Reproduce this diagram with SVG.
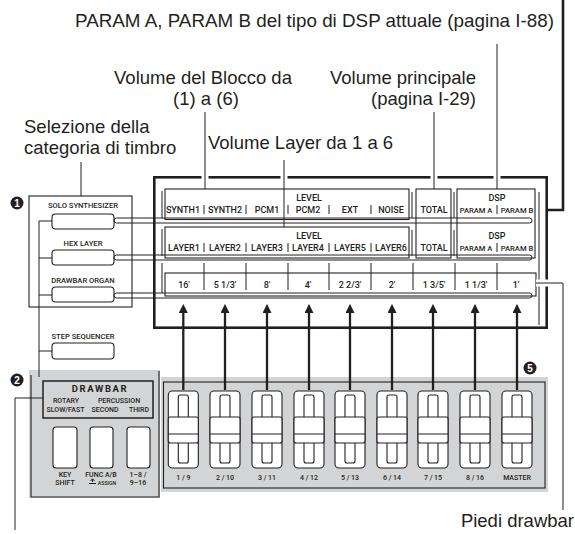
<svg xmlns="http://www.w3.org/2000/svg" width="575" height="534" viewBox="0 0 575 534">
<style>
.lbl{font-family:"Liberation Sans",Arial,sans-serif;font-size:18.5px;fill:#231f20}
.p{font-family:Roboto,"Liberation Sans",sans-serif;font-size:9px;font-weight:500;fill:#231f20;text-anchor:middle}
.ps{font-family:Roboto,"Liberation Sans",sans-serif;font-size:7.6px;font-weight:500;fill:#231f20;text-anchor:middle}
.pt{font-family:Roboto,"Liberation Sans",sans-serif;font-size:7px;font-weight:500;fill:#231f20;text-anchor:middle}
.ln{stroke:#231f20;stroke-width:1;fill:none}
.box{stroke:#231f20;stroke-width:1.1;fill:none}
.thick{stroke:#231f20;stroke-width:2.6;fill:none}
.btn{stroke:#231f20;stroke-width:1.1;fill:#fff}
.halo{stroke:#fff;stroke-width:7;fill:none}
.arr{stroke:#231f20;stroke-width:2.3;fill:none}
.bar{stroke:#231f20;stroke-width:1;fill:none}
.num{font-family:"Liberation Sans",Arial,sans-serif;font-size:10px;font-weight:bold;fill:#fff;text-anchor:middle}
</style>
<defs>
<marker id="ah" viewBox="0 0 10 10" refX="1" refY="5" markerWidth="9" markerHeight="9" orient="auto" markerUnits="userSpaceOnUse">
<path d="M0,0 L10,5 L0,10 Z" fill="#231f20"/>
</marker>
<g id="slider">
<rect x="-15" y="391" width="30" height="77" rx="4" class="btn"/>
<rect x="-5" y="395" width="10" height="68" rx="2" class="btn"/>
<rect x="-15" y="417" width="30" height="26" rx="2" class="btn"/>
<line x1="-15" y1="434" x2="15" y2="434" class="ln"/>
</g>
</defs>
<rect width="575" height="534" fill="#fff"/>

<!-- top labels -->
<g id="label-dsp"><text class="lbl" x="554" y="27" text-anchor="end" textLength="479" lengthAdjust="spacingAndGlyphs">PARAM A, PARAM B del tipo di DSP attuale (pagina I-88)</text></g>
<g id="label-blocco"><text class="lbl" x="203" y="84" text-anchor="middle">Volume del Blocco da</text><text class="lbl" x="206" y="105" text-anchor="middle">(1) a (6)</text></g>
<g id="label-principale"><text class="lbl" x="476" y="84" text-anchor="end">Volume principale</text><text class="lbl" x="476" y="105" text-anchor="end">(pagina I-29)</text></g>
<g id="label-selezione"><text class="lbl" x="24" y="133">Selezione della</text><text class="lbl" x="24" y="154">categoria di timbro</text></g>
<g id="label-layer"><text class="lbl" x="208" y="149">Volume Layer da 1 a 6</text></g>
<g id="label-piedi"><text class="lbl" x="574" y="527" text-anchor="end">Piedi drawbar</text></g>

<!-- display -->
<g id="display">
<rect x="154.3" y="177.3" width="392.4" height="150.4" class="thick"/>
<line x1="539" y1="192" x2="539" y2="325" class="ln"/>
</g>
<g id="row1">
<rect x="165" y="189" width="244" height="30.5" class="box"/>
<line x1="162" y1="191" x2="162" y2="218" class="ln"/>
<text class="p" x="309" y="201">LEVEL</text>
<text class="p" x="183" y="213">SYNTH1</text>
<text class="p" x="225" y="213">SYNTH2</text>
<text class="p" x="267" y="213">PCM1</text>
<text class="p" x="308" y="213">PCM2</text>
<text class="p" x="350" y="213">EXT</text>
<text class="p" x="391" y="213">NOISE</text>
<path class="ln" d="M204,205V214M246,205V214M288,205V214M329,205V214M371,205V214"/>
</g>
<g id="row2">
<rect x="165" y="227" width="244" height="31" class="box"/>
<line x1="162" y1="229" x2="162" y2="256" class="ln"/>
<text class="p" x="309" y="239">LEVEL</text>
<text class="p" x="184" y="251">LAYER1</text>
<text class="p" x="225" y="251">LAYER2</text>
<text class="p" x="267" y="251">LAYER3</text>
<text class="p" x="308" y="251">LAYER4</text>
<text class="p" x="350" y="251">LAYER5</text>
<text class="p" x="391" y="251">LAYER6</text>
<path class="ln" d="M204,243V252M246,243V252M288,243V252M329,243V252M371,243V252"/>
</g>
<g id="total">
<rect x="416" y="189" width="35" height="69" class="box"/>
<path class="ln" d="M412,192V218M412,230V256"/>
<text class="p" x="434" y="213">TOTAL</text>
<text class="p" x="434" y="251">TOTAL</text>
</g>
<g id="dsp">
<rect x="457" y="189" width="78" height="69" class="box"/>
<path class="ln" d="M454,192V218M454,230V256M497,205V214M497,243V252"/>
<text class="p" x="497" y="201">DSP</text>
<text class="ps" x="476" y="213">PARAM A</text>
<text class="ps" x="517" y="213">PARAM B</text>
<text class="p" x="497" y="239">DSP</text>
<text class="ps" x="476" y="251">PARAM A</text>
<text class="ps" x="517" y="251">PARAM B</text>
</g>
<g id="row3">
<rect x="165" y="273" width="371" height="23" class="box"/>
<line x1="162" y1="263" x2="162" y2="293" class="ln"/>
<path class="ln" d="M204,263V290M246,263V290M288,263V290M329,263V290M371,263V290M413,263V290M455,263V290M497,263V290"/>
<text class="p" x="184" y="288">16′</text>
<text class="p" x="225" y="288">5  1/3′</text>
<text class="p" x="267" y="288">8′</text>
<text class="p" x="308" y="288">4′</text>
<text class="p" x="350" y="288">2  2/3′</text>
<text class="p" x="392" y="288">2′</text>
<text class="p" x="434" y="288">1  3/5′</text>
<text class="p" x="476" y="288">1  1/3′</text>
<text class="p" x="516" y="288">1′</text>
</g>

<!-- category panel -->
<g id="category">
<rect x="29" y="196" width="103" height="111" class="box"/>
<circle cx="17" cy="203" r="6.5" fill="#231f20"/><text class="num" x="17" y="206.5">1</text>
</g>
<g id="btn-solo"><text class="ps" x="83" y="208">SOLO SYNTHESIZER</text><rect x="52" y="214" width="62" height="15" rx="3.5" class="btn"/></g>
<g id="btn-hex"><text class="ps" x="83" y="246">HEX LAYER</text><rect x="52" y="250" width="62" height="15" rx="3.5" class="btn"/></g>
<g id="btn-organ"><text class="ps" x="83" y="283">DRAWBAR ORGAN</text><rect x="52" y="287" width="62" height="15" rx="3.5" class="btn"/></g>
<g id="btn-step"><text class="ps" x="83" y="339">STEP SEQUENCER</text><rect x="52" y="343" width="62" height="16" rx="3.5" class="btn"/></g>

<!-- drawbar left panel -->
<g id="drawbar-panel">
<rect x="29" y="370" width="131" height="128" fill="#d3d4d5"/>
<path d="M31,375V497H159V371" class="box" stroke-width="1.2"/>
<rect x="43" y="381" width="110" height="37" fill="none" stroke="#231f20" stroke-width="1.5"/>
<text x="100" y="392" text-anchor="middle" font-family="Roboto,'Liberation Sans',sans-serif" font-size="9.5" font-weight="bold" letter-spacing="1.6" fill="#231f20">DRAWBAR</text>
<text class="pt" x="66" y="403">ROTARY</text>
<text class="pt" x="65.5" y="412">SLOW/FAST</text>
<text class="pt" x="119" y="403">PERCUSSION</text>
<text class="pt" x="105" y="412">SECOND</text>
<text class="pt" x="139" y="412">THIRD</text>
<rect x="53" y="427" width="24" height="41" rx="3" class="btn"/>
<rect x="90" y="427" width="23" height="41" rx="3" class="btn"/>
<rect x="127" y="427" width="23" height="41" rx="3" class="btn"/>
<text class="pt" x="65" y="477">KEY</text>
<text class="pt" x="65" y="485">SHIFT</text>
<text class="pt" x="101" y="477">FUNC A/B</text>
<path d="M89,483.5h7M92.5,479v3M90.5,481l2,-2.2l2,2.2" stroke="#231f20" stroke-width="1" fill="none"/>
<text x="107" y="484.5" text-anchor="middle" font-family="Roboto,'Liberation Sans',sans-serif" font-size="5.2" font-weight="500" fill="#231f20">ASSIGN</text>
<text class="pt" x="138" y="477">1–8 /</text>
<text class="pt" x="138" y="485">9–16</text>
<circle cx="17" cy="380" r="6.5" fill="#231f20"/><text class="num" x="17" y="383.5">2</text>
</g>

<!-- drawbar sliders panel -->
<g id="slider-panel">
<rect x="161" y="377" width="387" height="115" fill="#d3d4d5"/>
<rect x="163.5" y="382" width="381.5" height="106" class="box" stroke-width="1.2"/>
<circle cx="530" cy="368" r="6.5" fill="#231f20"/><text class="num" x="530" y="371.5">5</text>
</g>
<g id="db1"><use href="#slider" x="183.3"/><text class="pt" x="183.3" y="480">1 / 9</text></g>
<g id="db2"><use href="#slider" x="225"/><text class="pt" x="225" y="480">2 / 10</text></g>
<g id="db3"><use href="#slider" x="267"/><text class="pt" x="267" y="480">3 / 11</text></g>
<g id="db4"><use href="#slider" x="309"/><text class="pt" x="309" y="480">4 / 12</text></g>
<g id="db5"><use href="#slider" x="350"/><text class="pt" x="350" y="480">5 / 13</text></g>
<g id="db6"><use href="#slider" x="392"/><text class="pt" x="392" y="480">6 / 14</text></g>
<g id="db7"><use href="#slider" x="433"/><text class="pt" x="433" y="480">7 / 15</text></g>
<g id="db8"><use href="#slider" x="475"/><text class="pt" x="475" y="480">8 / 16</text></g>
<g id="db9"><use href="#slider" x="517"/><text class="pt" x="517" y="480">MASTER</text></g>

<!-- connectors -->
<g id="connectors">
<path class="halo" d="M205,173V182M284,173V182M434,173V182M497,173V182M536,283H551" stroke-width="6"/>
<path class="ln" d="M205,112V189M284,160V227M434,112V189M497,44V189M81,162V196"/>
<path d="M563,0V210H547" stroke="#231f20" stroke-width="2.6" fill="none"/>
<path class="ln" d="M536,283H563V510"/>
<path class="ln" d="M43,398H15V530"/>
<path class="ln" d="M39,221V377M39,221H52M39,258H52M39,295H52M39,351H52"/>
<rect x="114" y="218" width="418" height="5" rx="2.5" class="bar"/>
<rect x="114" y="255" width="418" height="5" rx="2.5" class="bar"/>
<rect x="114" y="293" width="418" height="5" rx="2.5" class="bar"/>
<path class="arr" marker-end="url(#ah)" d="M183.3,390V312"/>
<path class="arr" marker-end="url(#ah)" d="M225,390V312"/>
<path class="arr" marker-end="url(#ah)" d="M267,390V312"/>
<path class="arr" marker-end="url(#ah)" d="M309,390V312"/>
<path class="arr" marker-end="url(#ah)" d="M350,390V312"/>
<path class="arr" marker-end="url(#ah)" d="M392,390V312"/>
<path class="arr" marker-end="url(#ah)" d="M433,390V312"/>
<path class="arr" marker-end="url(#ah)" d="M475,390V312"/>
<path class="arr" marker-end="url(#ah)" d="M517,390V312"/>
</g>
</svg>
